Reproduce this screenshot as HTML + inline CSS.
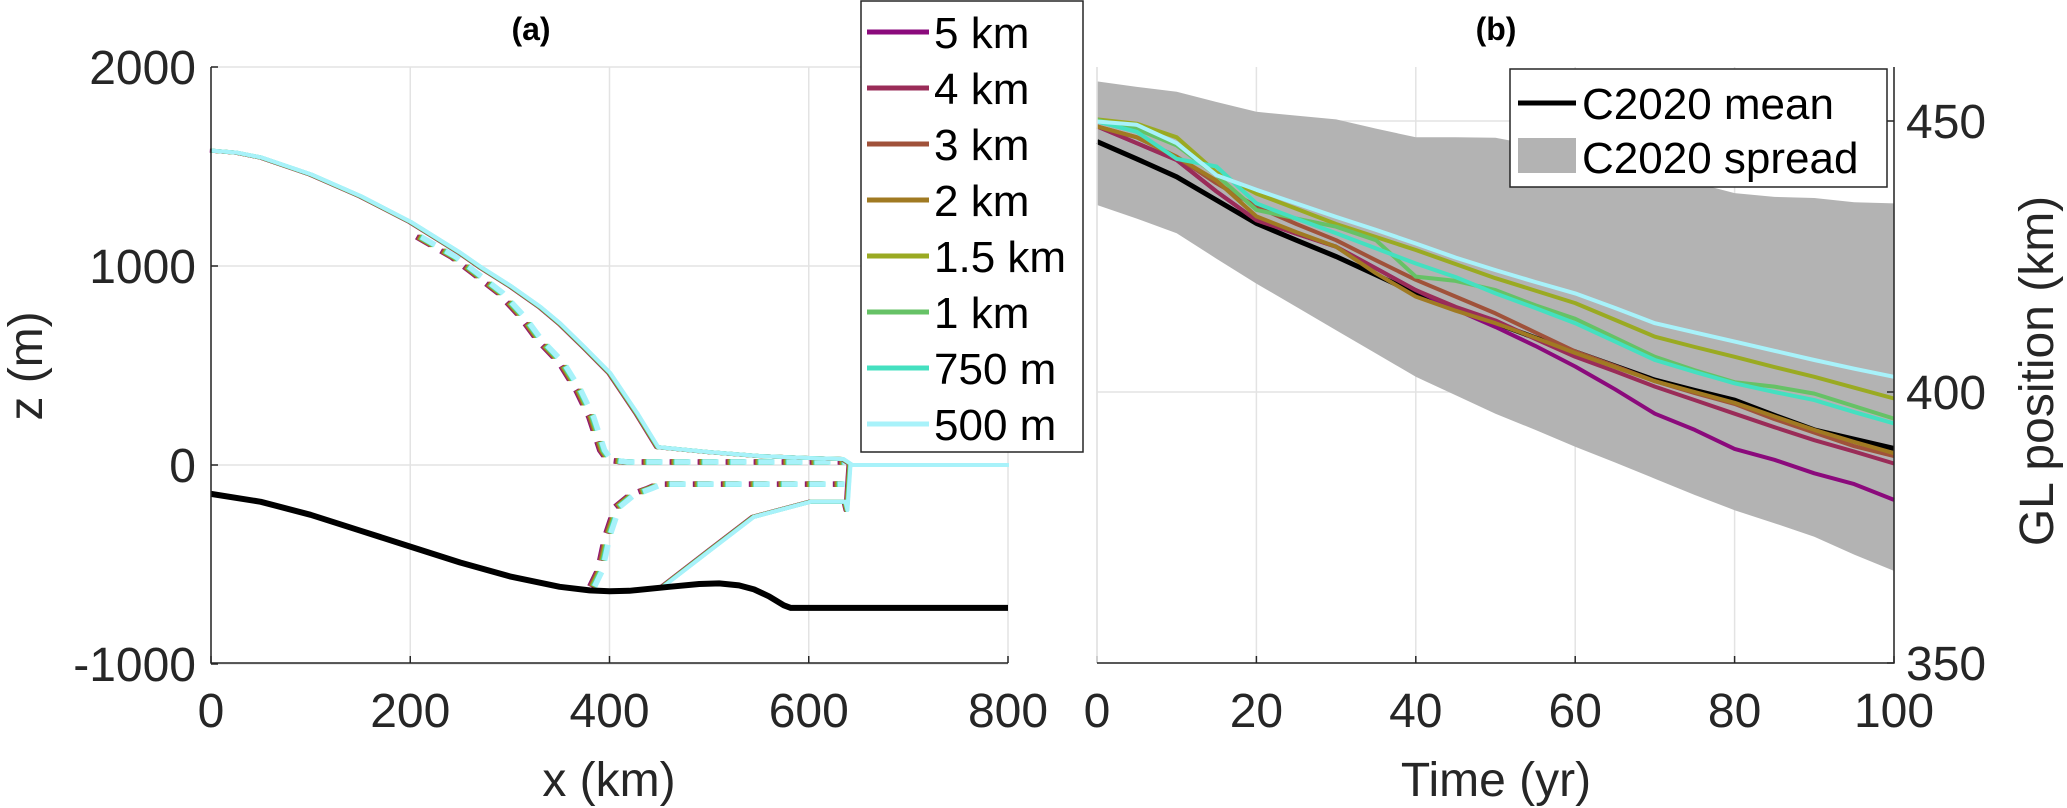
<!DOCTYPE html>
<html><head><meta charset="utf-8"><style>
html,body{margin:0;padding:0;background:#fff;}
svg{display:block;font-family:"Liberation Sans",Arial,sans-serif;}
</style></head><body>
<svg id="chart" width="2067" height="808" viewBox="0 0 2067 808" xmlns="http://www.w3.org/2000/svg">
<g id="gridA"></g>
<g id="gridB"></g>
<g id="plotA"></g>
<g id="plotB"></g>
<g id="axes"></g>
<text x="531" y="40" font-size="32" font-weight="bold" text-anchor="middle">(a)</text>
<text x="1496" y="40" font-size="32" font-weight="bold" text-anchor="middle">(b)</text>
<text x="609" y="796" font-size="48" text-anchor="middle" fill="#262626">x (km)</text>
<text x="1496" y="796" font-size="48" text-anchor="middle" fill="#262626">Time (yr)</text>
<text transform="translate(42,366) rotate(-90)" font-size="48" text-anchor="middle" fill="#262626">z (m)</text>
<text transform="translate(2053,371) rotate(-90)" font-size="48" text-anchor="middle" fill="#262626">GL position (km)</text>
<g>
<rect x="861" y="1" width="222" height="451" fill="#fff" stroke="#262626" stroke-width="1.5"></rect>
<g id="legA"></g>
</g>
<g>
<rect x="1510" y="69" width="377" height="118" fill="#fff" stroke="#262626" stroke-width="1.5"></rect>
<line x1="1518" y1="103" x2="1576" y2="103" stroke="#000" stroke-width="5"></line>
<text x="1582" y="119" font-size="44">C2020 mean</text>
<rect x="1518" y="138" width="58" height="35" fill="#b3b3b3"></rect>
<text x="1582" y="173" font-size="44">C2020 spread</text>
</g>
</svg>
<script>
// ---- Panel (a) data ----
const resLabels = ["5 km","4 km","3 km","2 km","1.5 km","1 km","750 m","500 m"];
const resColors = ["#8b0a7c","#9a2c58","#a0523a","#a07a22","#9aaa22","#66c266","#44e0c0","#a8f2fa"];
const glShift = [-4,-3,-2,-1,0,1,2,3];
const bedX = [0,50,100,150,200,250,300,350,380,400,420,460,490,510,530,545,560,575,582,800];
const bedZ = [-145,-185,-250,-330,-410,-490,-560,-612,-630,-634,-632,-612,-598,-595,-605,-625,-660,-705,-718,-718];
const surfX = [0,25,50,100,150,200,250,270,300,330,350,374,400,427,448,500,550,600,634,643,800];
const surfZ = [1580,1570,1545,1460,1350,1221,1065,995,900,794,710,593,462,261,90,65,45,35,30,0,0];
const baseX = [452,500,544,601,636,638,641];
const baseZ = [-615,-430,-261,-185,-185,-226,0];
const dSurfX = [209,244,265,291,313,330,352,369,382,393,400,416,634];
const dSurfZ = [1146,1045,965,864,744,628,513,377,241,75,25,15,15];
const dBaseX = [383,391,398,408,423,439,451,634];
const dBaseZ = [-610,-528,-362,-211,-150,-121,-96,-96];
// ---- Panel (b) data ----
const years = [0,5,10,15,20,25,30,35,40,45,50,55,60,65,70,75,80,85,90,95,100];
const meanGL = [446.2,443,439.7,435.4,431.1,428,425,421.6,418.2,415.4,412.7,410,407.4,404.8,402.2,400.3,398.5,395.7,393,391.3,389.6];
const spreadHi = [457.3,456.3,455.4,453.5,451.7,451,450.3,448.6,447,447,446.9,445.5,443.8,442,440.5,438.6,436.7,436,435.8,435,434.8];
const spreadLo = [434.5,432,429.3,424.6,420,415.7,411.4,407.1,402.8,399.4,396,393,389.9,387,384,381,378.2,375.8,373.3,370,367];
const gl5km = [449,445.9,442.8,437,431.7,429.2,426.8,422.8,418.8,415.2,412,408.5,404.7,400.5,396,393,389.5,387.5,385,383,380.1];
const gl4km = [449,445.9,442.8,437,431.7,429.2,426.8,422.8,418.8,415.7,413.2,409.8,406.5,403.8,401,398.5,396,393.5,391.1,389,386.8];
const gl3km = [449,447,443.4,438.5,434.2,431,428,424.3,420.7,417.6,414.5,411,407.5,404.8,402,399.8,397.8,395,392.5,390,388.2];
const gl2km = [449,447,443.4,439,432.4,429.5,426.8,421.9,417.6,415,412.7,410,407.2,404.6,402,400,398,395.5,393,390.8,388.7];
const gl15km = [450.3,449.5,447,440.5,436.6,433.8,431,428.6,426.2,423.6,421,418.7,416.4,413.3,410.2,408.3,406.5,404.6,402.8,400.8,398.8];
const gl1km = [450.2,448.5,445.5,440,433.6,432,430.5,428,421.3,420.5,418.8,416,413.5,410,406.5,404,401.8,401,399.7,397.4,395.1];
const gl750m = [449.9,448,443,441.6,434.8,432,429.3,426.5,423.7,421.2,418.2,415.5,412.7,409.3,405.9,403.7,401.6,400,398.5,396.3,394.2];
const gl500m = [449.9,449.3,445.9,440,437.3,434.8,432.3,429.9,427.4,424.8,422.5,420.3,418.2,415.5,412.7,411,409.3,407.6,405.9,404.3,402.8];
const glSeries = [gl5km,gl4km,gl3km,gl2km,gl15km,gl1km,gl750m,gl500m];
const xTicksA = [0,200,400,600,800];
const yTicksA = [-1000,0,1000,2000];
const xTicksB = [0,20,40,60,80,100];
const yTicksB = [350,400,450];

const NS="http://www.w3.org/2000/svg";
function mk(tag,parent,attrs){const e=document.createElementNS(NS,tag);for(const k in attrs)e.setAttribute(k,attrs[k]);parent.appendChild(e);return e;}
const ax = v => 211 + (v/800)*797;
const ay = v => 465 - (v/1000)*199;
const bx = v => 1097 + (v/100)*797;
const by = v => 392 - (v-400)*5.42;
const A0={l:211,r:1008,t:67,b:663}, B0={l:1097,r:1894,t:67,b:663};

const gA=document.getElementById('gridA'), gB=document.getElementById('gridB'), axG=document.getElementById('axes');
xTicksA.forEach(v=>{const l=mk('line',gA,{x1:ax(v),x2:ax(v),y1:A0.t,y2:A0.b,stroke:'#e3e3e3','stroke-width':1.5});

const t=mk('text',axG,{x:ax(v),y:727,'font-size':48,'text-anchor':'middle',fill:'#262626'});t.textContent=v;

mk('line',axG,{x1:ax(v),x2:ax(v),y1:A0.b,y2:A0.b-7,stroke:'#262626','stroke-width':1.5});});
yTicksA.forEach(v=>{const l=mk('line',gA,{x1:A0.l,x2:A0.r,y1:ay(v),y2:ay(v),stroke:'#e3e3e3','stroke-width':1.5});

const t=mk('text',axG,{x:196,y:ay(v)+17,'font-size':48,'text-anchor':'end',fill:'#262626'});t.textContent=v;

mk('line',axG,{x1:A0.l,x2:A0.l+7,y1:ay(v),y2:ay(v),stroke:'#262626','stroke-width':1.5});});
xTicksB.forEach(v=>{const l=mk('line',gB,{x1:bx(v),x2:bx(v),y1:B0.t,y2:B0.b,stroke:'#e3e3e3','stroke-width':1.5});

const t=mk('text',axG,{x:bx(v),y:727,'font-size':48,'text-anchor':'middle',fill:'#262626'});t.textContent=v;

mk('line',axG,{x1:bx(v),x2:bx(v),y1:B0.b,y2:B0.b-7,stroke:'#262626','stroke-width':1.5});});
yTicksB.forEach(v=>{const l=mk('line',gB,{x1:B0.l,x2:B0.r,y1:by(v),y2:by(v),stroke:'#e3e3e3','stroke-width':1.5});

const t=mk('text',axG,{x:1906,y:by(v)+17,'font-size':48,'text-anchor':'start',fill:'#262626'});t.textContent=v;

mk('line',axG,{x1:B0.r,x2:B0.r-7,y1:by(v),y2:by(v),stroke:'#262626','stroke-width':1.5});});
mk('path',axG,{d:`M${A0.l},${A0.t}V${A0.b}H${A0.r}`,fill:'none',stroke:'#262626','stroke-width':1.5});
mk('line',axG,{x1:B0.l,x2:B0.l,y1:B0.t,y2:B0.b,stroke:'#e3e3e3','stroke-width':1.5});
mk('path',axG,{d:`M${B0.l},${B0.b}H${B0.r}V${B0.t}`,fill:'none',stroke:'#262626','stroke-width':1.5});

function pathXY(xs,ys,fx,fy,dx){return xs.map((x,i)=>(i?'L':'M')+fx(x+(dx||0)).toFixed(1)+','+fy(ys[i]).toFixed(1)).join('');}

const pA=document.getElementById('plotA');
resColors.forEach((c,i)=>{
 const s=glShift[i];
 let e=mk('path',pA,{d:pathXY(dSurfX,dSurfZ,ax,ay,s*0.7),fill:'none',stroke:c,'stroke-width':5.5,'stroke-dasharray':'16,12','stroke-linejoin':'round'});
 
 e=mk('path',pA,{d:pathXY(dBaseX,dBaseZ,ax,ay,s*0.7),fill:'none',stroke:c,'stroke-width':5.5,'stroke-dasharray':'16,12','stroke-linejoin':'round'});
 
});
resColors.forEach((c,i)=>{
 const s=glShift[i]*0.3;
 let e=mk('path',pA,{d:pathXY(surfX,surfZ,ax,ay,s),fill:'none',stroke:c,'stroke-width':4,'stroke-linejoin':'round'});
 
 e=mk('path',pA,{d:pathXY(baseX,baseZ,ax,ay,s),fill:'none',stroke:c,'stroke-width':4,'stroke-linejoin':'round'});
 
});
let bedEl=mk('path',pA,{d:pathXY(bedX,bedZ,ax,ay),fill:'none',stroke:'#000','stroke-width':6,'stroke-linejoin':'round'});


const pB=document.getElementById('plotB');
let area=years.map((t,i)=>(i?'L':'M')+bx(t).toFixed(1)+','+by(spreadHi[i]).toFixed(1)).join('');
for(let i=years.length-1;i>=0;i--) area+='L'+bx(years[i]).toFixed(1)+','+by(spreadLo[i]).toFixed(1);
let ar=mk('path',pB,{d:area+'Z',fill:'#b3b3b3'});

let mn=mk('path',pB,{d:pathXY(years,meanGL,bx,by),fill:'none',stroke:'#000','stroke-width':5});

glSeries.forEach((ser,i)=>{
 const e=mk('path',pB,{d:pathXY(years,ser,bx,by),fill:'none',stroke:resColors[i],'stroke-width':4,'stroke-linejoin':'round'});
 
 
});

const lg=document.getElementById('legA');
resLabels.forEach((lab,i)=>{
 const y=32+i*56;
 const l=mk('line',lg,{x1:867,x2:929,y1:y,y2:y,stroke:resColors[i],'stroke-width':5});
 
 const t=mk('text',lg,{x:934,y:y+16,'font-size':44});t.textContent=lab;
 
});
</script>
</body></html>
